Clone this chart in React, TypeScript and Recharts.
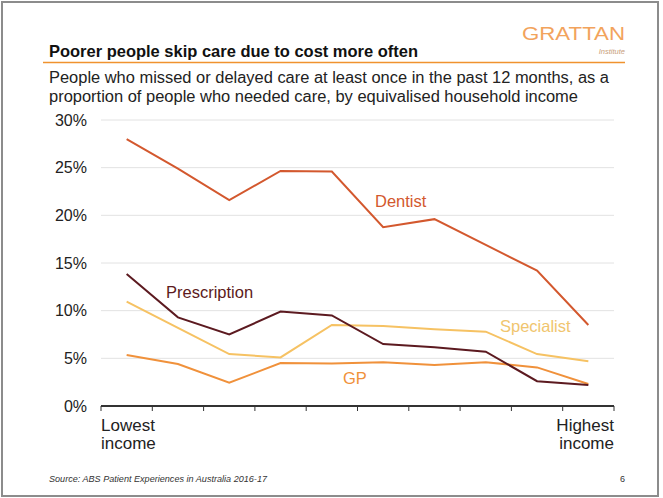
import { LineChart, Line, XAxis, YAxis, CartesianGrid } from 'recharts'

// income deciles, lowest to highest
const deciles = [1, 2, 3, 4, 5, 6, 7, 8, 9, 10]
const dentist = [28.0, 24.9, 21.6, 24.65, 24.6, 18.75, 19.6, 16.9, 14.2, 8.5]
const prescription = [13.85, 9.3, 7.5, 9.9, 9.5, 6.5, 6.15, 5.7, 2.6, 2.2]
const specialist = [10.95, 8.2, 5.45, 5.1, 8.5, 8.4, 8.05, 7.8, 5.45, 4.7]
const gp = [5.35, 4.4, 2.45, 4.5, 4.45, 4.6, 4.3, 4.6, 4.05, 2.3]
const yTicks = [0, 5, 10, 15, 20, 25, 30]
const xTicks = [0, 1, 2, 3, 4, 5, 6, 7, 8, 9, 10]

const COLORS = {
  dentist: '#d3582e',
  prescription: '#5c1a20',
  specialist: '#f6c263',
  gp: '#f0913b',
}

// each decile sits in the middle of its band
const data = deciles.map((d, i) => ({
  pos: d - 0.5,
  dentist: dentist[i],
  prescription: prescription[i],
  specialist: specialist[i],
  gp: gp[i],
}))

const FONT = 'Arial, "Liberation Sans", Helvetica, sans-serif'

function IncomeTick(props: any) {
  const { x, y, payload } = props
  if (payload.value !== 0 && payload.value !== 10) return null
  const first = payload.value === 0
  return (
    <text
      x={x}
      y={y}
      textAnchor={first ? 'start' : 'end'}
      fontSize={17}
      fill="#222"
      fontFamily={FONT}
    >
      <tspan x={x} dy={18}>{first ? 'Lowest' : 'Highest'}</tspan>
      <tspan x={x} dy={18}>income</tspan>
    </text>
  )
}

export default function App() {
  return (
    <div
      style={{
        position: 'absolute',
        left: 0,
        top: 0,
        width: 663,
        height: 498,
        background: '#fff',
        fontFamily: FONT,
      }}
    >
      <div
        style={{
          position: 'absolute',
          left: 1,
          top: 1,
          width: 658,
          height: 496,
          border: '2px solid #8c8c8c',
          boxSizing: 'border-box',
        }}
      />
      <LineChart
        width={663}
        height={498}
        data={data}
        margin={{ top: 120, right: 49, bottom: 42, left: 41 }}
        style={{ position: 'absolute', left: 0, top: 0 }}
      >
        <CartesianGrid vertical={false} stroke="#e2e2e2" />
        <XAxis
          dataKey="pos"
          type="number"
          domain={[0, 10]}
          ticks={xTicks}
          interval={0}
          height={50}
          tickSize={5}
          tickLine={{ stroke: '#333' }}
          axisLine={{ stroke: '#333', strokeWidth: 2 }}
          tick={<IncomeTick />}
        />
        <YAxis
          type="number"
          domain={[0, 30]}
          ticks={yTicks}
          width={60}
          axisLine={false}
          tickLine={false}
          tickSize={0}
          tickMargin={14}
          tickFormatter={(v: number) => `${v}%`}
          tick={{ fontSize: 16, fill: '#222', fontFamily: FONT }}
        />
        <Line type="linear" dataKey="gp" stroke={COLORS.gp} strokeWidth={2} dot={false} isAnimationActive={false} />
        <Line type="linear" dataKey="specialist" stroke={COLORS.specialist} strokeWidth={2} dot={false} isAnimationActive={false} />
        <Line type="linear" dataKey="prescription" stroke={COLORS.prescription} strokeWidth={2} dot={false} isAnimationActive={false} />
        <Line type="linear" dataKey="dentist" stroke={COLORS.dentist} strokeWidth={2} dot={false} isAnimationActive={false} />
      </LineChart>
      <svg
        width={663}
        height={498}
        style={{ position: 'absolute', left: 0, top: 0, pointerEvents: 'none' }}
        fontFamily={FONT}
      >
        <text x={522} y={40} fontSize={19} fill="#f2a35c" textLength={103} lengthAdjust="spacingAndGlyphs">
          GRATTAN
        </text>
        <text x={625} y={54} fontSize={7.5} fill="#c9a07a" textAnchor="end" fontStyle="italic">
          Institute
        </text>
        <text x={49} y={57} fontSize={17} fontWeight="bold" fill="#111" textLength={369} lengthAdjust="spacingAndGlyphs">
          Poorer people skip care due to cost more often
        </text>
        <line x1={43} x2={625} y1={62.5} y2={62.5} stroke="#f0922e" strokeWidth={1.6} />
        <text x={49} y={82.5} fontSize={16} fill="#222" textLength={560} lengthAdjust="spacingAndGlyphs">
          People who missed or delayed care at least once in the past 12 months, as a
        </text>
        <text x={49} y={101.5} fontSize={16} fill="#222" textLength={529} lengthAdjust="spacingAndGlyphs">
          proportion of people who needed care, by equivalised household income
        </text>
        <text x={375} y={207} fontSize={16.5} fill={COLORS.dentist}>Dentist</text>
        <text x={166} y={297.5} fontSize={16.5} fill={COLORS.prescription}>Prescription</text>
        <text x={500} y={332} fontSize={16.5} fill="#f0c56e">Specialist</text>
        <text x={343} y={384} fontSize={16.5} fill={COLORS.gp}>GP</text>
        <text x={49} y={482} fontSize={9} fontStyle="italic" fill="#333" textLength={218} lengthAdjust="spacingAndGlyphs">
          Source: ABS Patient Experiences in Australia 2016-17
        </text>
        <text x={620} y={482} fontSize={9} fill="#333">6</text>
      </svg>
    </div>
  )
}
